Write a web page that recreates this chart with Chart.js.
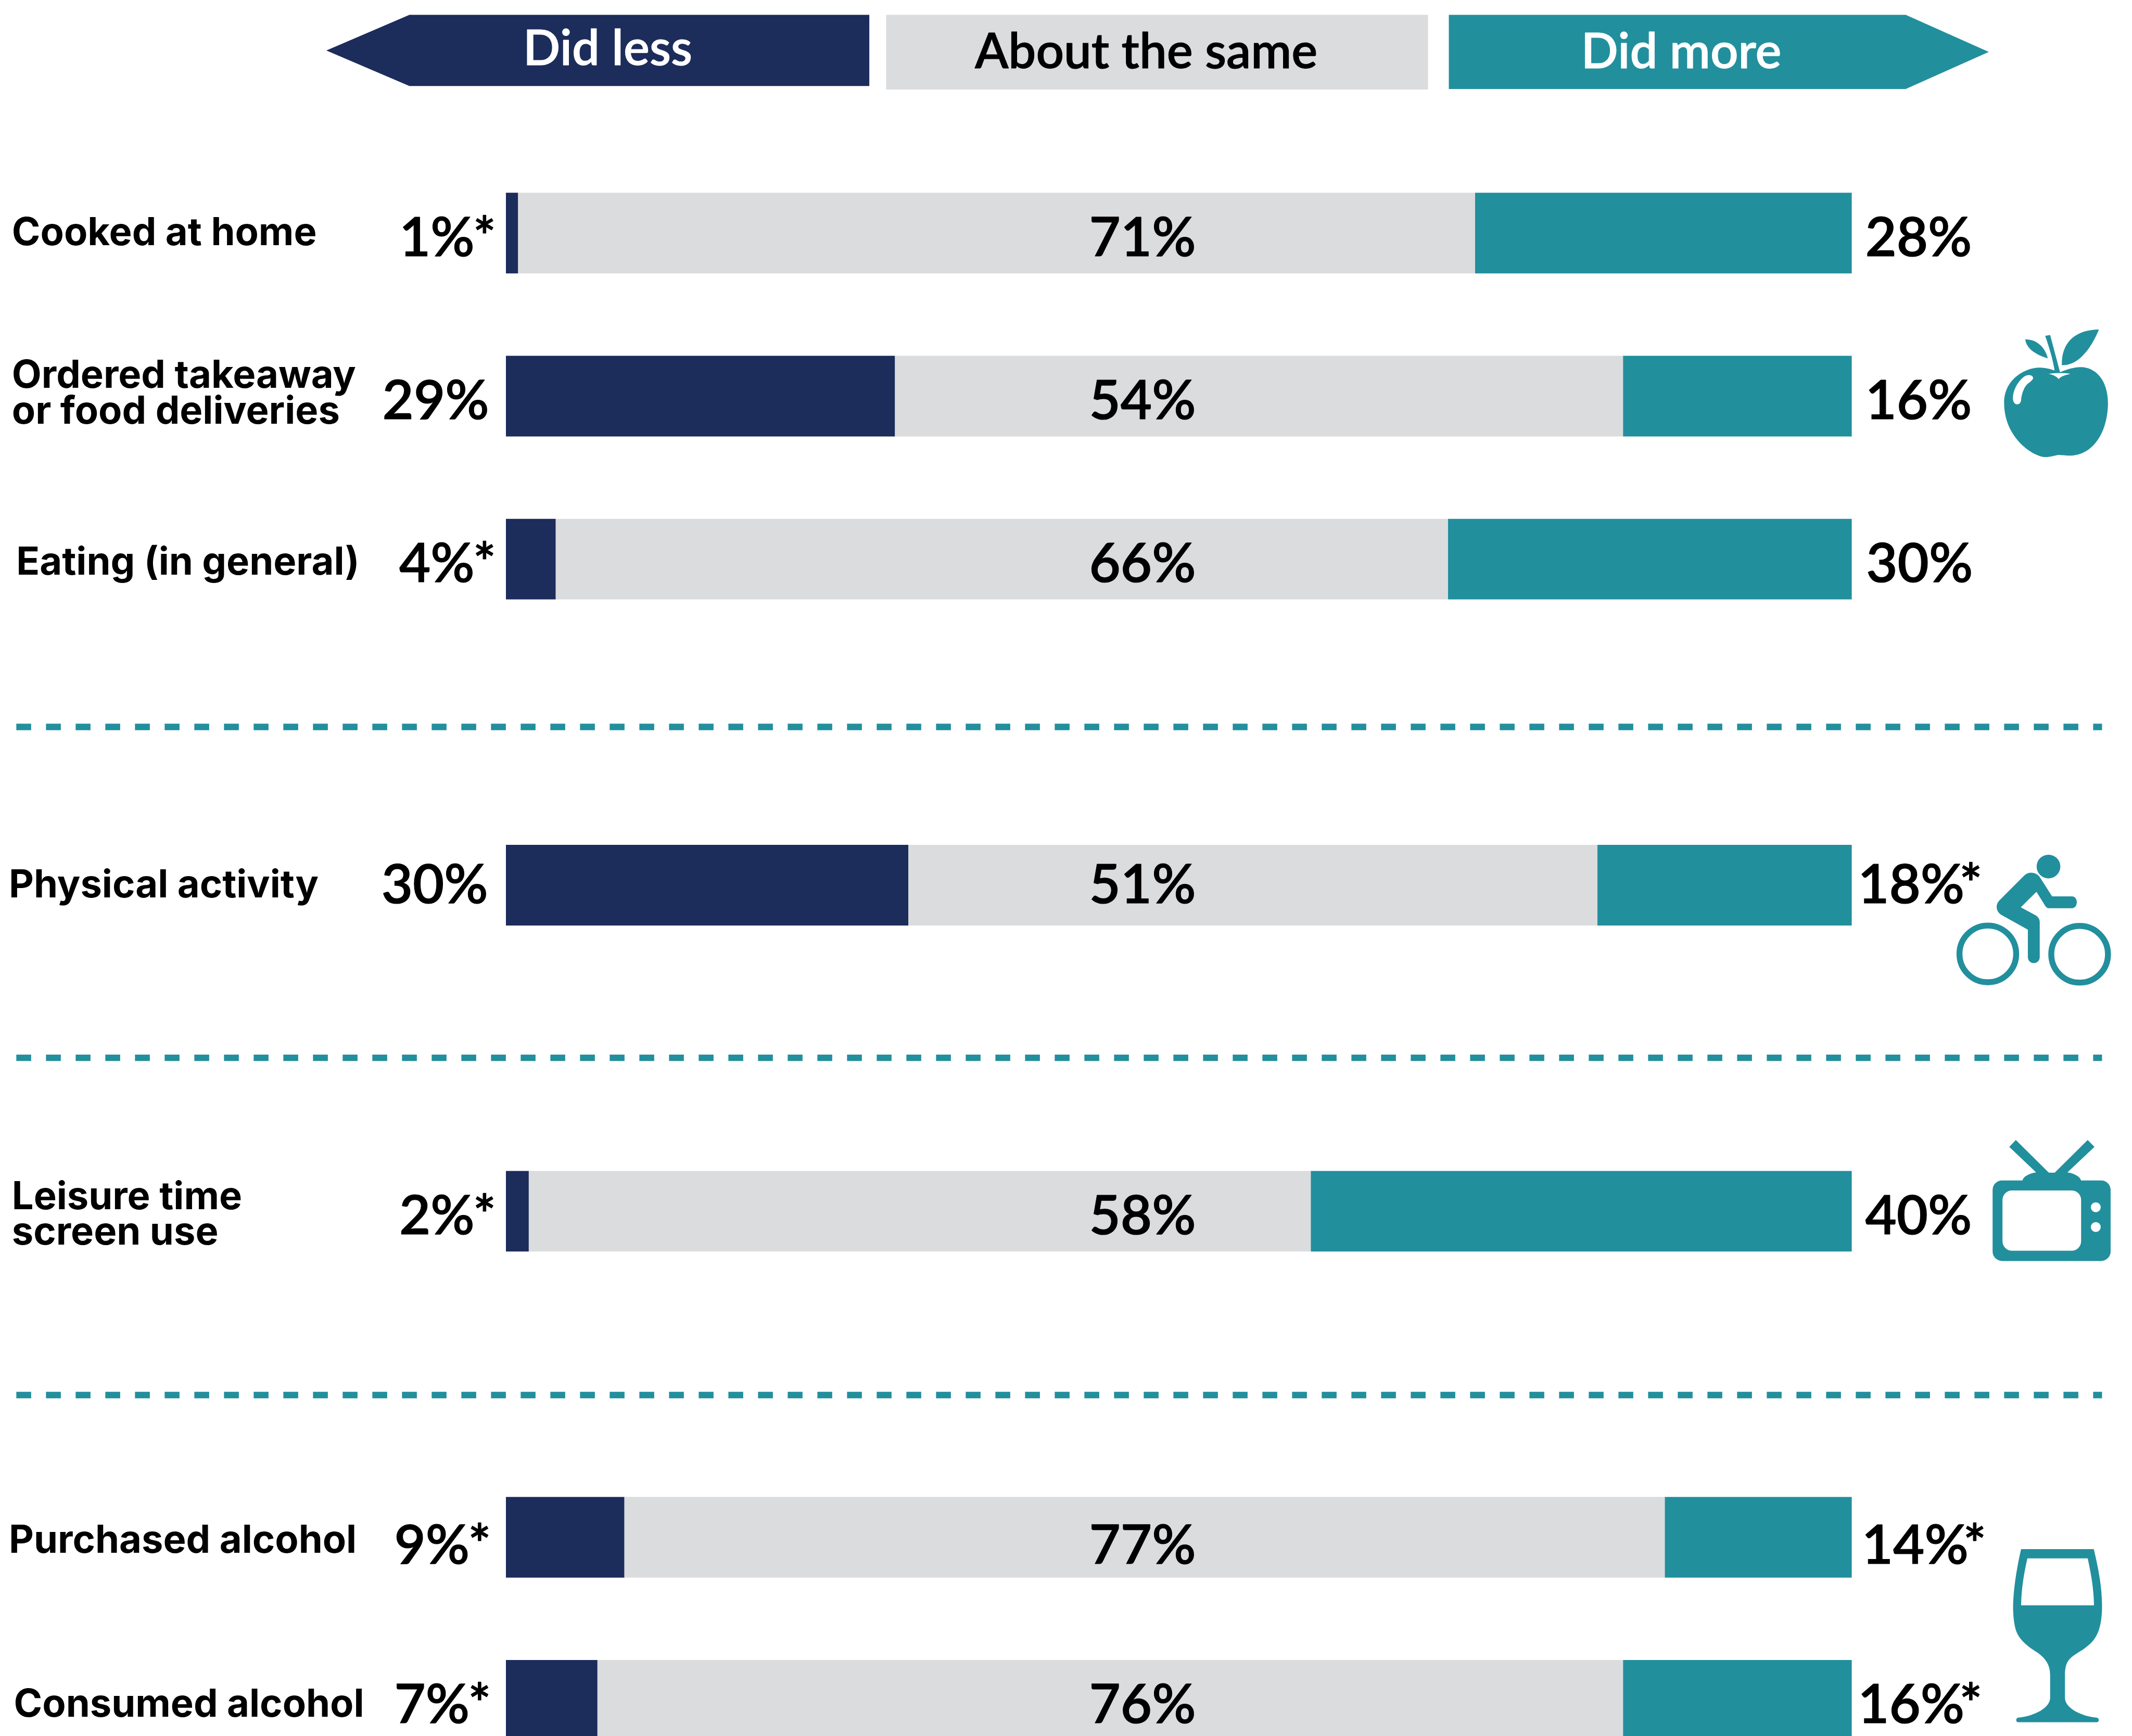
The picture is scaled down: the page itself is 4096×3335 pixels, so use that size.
<!DOCTYPE html>
<html>
<head>
<meta charset="utf-8">
<title>Did less, about the same, did more</title>
<script src="https://cdn.jsdelivr.net/npm/chart.js@4/dist/chart.umd.min.js"></script>
<style>
  html, body { margin: 0; padding: 0; background: #fff; overflow: hidden; }
  #wrap { width: 4096px; height: 3335px; overflow: hidden; }
  canvas { display: block; }
</style>
</head>
<body>
<div id="wrap"><canvas id="chart"></canvas></div>
<script>
// rows, the empty ones are the gaps with a dashed line in them
const categories = [
    "Cooked at home", "Ordered takeaway|or food deliveries", "Eating (in general)", "",
    "Physical activity", "", "Leisure time|screen use", "",
    "Purchased alcohol", "Consumed alcohol"
];
const didLess = [0.9, 28.9, 3.7, null, 29.9, null, 1.7, null, 8.8, 6.8];
const aboutSame = [71.1, 54.1, 66.3, null, 51.2, null, 58.1, null, 77.3, 76.2];
const didMore = [28.0, 17.0, 30.0, null, 18.9, null, 40.2, null, 13.9, 17.0];
const lessLabels = ["1%*", "29%", "4%*", "", "30%", "", "2%*", "", "9%*", "7%*"];
const sameLabels = ["71%", "54%", "66%", "", "51%", "", "58%", "", "77%", "76%"];
const moreLabels = ["28%", "16%", "30%", "", "18%*", "", "40%", "", "14%*", "16%*"];
const headerLabels = ["Did less", "About the same", "Did more"];

const S = 0.95; // reference px -> page px
const NAVY = "#1c2c5b", GREY = "#dbdcde", TEAL = "#228f9d";
const ROW = 329.6 * S;
const AREA_TOP = 306.5 * S;

// small per-row text placement, in reference px
const nameX = [24, 24, 33, 0, 18, 0, 24, 0, 18, 28];
const nameDy = [5, 0, 12, 0, 5, 0, 12, 0, 12, 14];
const lessRight = [1003, 989, 1003, 0, 987, 0, 1003, 0, 993, 993];
const moreLeft = [3772, 3772, 3774, 0, 3757, 0, 3772, 0, 3765, 3757];
const valueDy = [8, 8, 8, 0, -2, 0, 8, 0, 15, 8];
const SAME_AT = 47.3; // the middle labels all sit on one x value
const KERN_LEFT = 3, KERN_RIGHT = 10; // the asterisk sits tighter on the % than in Lato

function iconAt(ctx, ox, oy, draw) {
    ctx.save();
    ctx.scale(S, S);
    ctx.translate(ox, oy);
    ctx.scale(1 / 3, 1 / 3);
    ctx.fillStyle = TEAL;
    draw(ctx);
    ctx.restore();
}

function drawApple(ctx) {
    ctx.fill(new Path2D("M798 398C840 380 890 366 925 367C1010 368 1088 440 1089 585C1088 760 1000 905 855 904C830 904 805 900 790 900C770 902 740 913 710 913C640 913 459 800 459 585C459 430 600 370 670 370C710 370 740 378 765 388C755 320 730 240 708 178L738 172Z"));
    ctx.fill(new Path2D("M587 199C650 197 705 240 724 314C660 295 595 260 587 199Z"));
    ctx.fill(new Path2D("M1034 139C900 140 805 210 809 355C900 360 980 270 1034 139Z"));
    ctx.fillStyle = "#fff";
    ctx.fill(new Path2D("M634 428C625 412 600 412 580 425C540 455 512 510 512 555C512 585 530 595 540 593C552 592 562 580 562 565C565 530 580 490 595 475C610 460 640 445 634 428Z"));
    ctx.fill(new Path2D("M728 408C770 402 830 402 862 408C830 414 800 425 790 440C780 425 755 412 728 408Z"));
}

function drawBike(ctx) {
    ctx.beginPath();
    ctx.arc(728, 217, 72, 0, Math.PI * 2);
    ctx.fill();
    ctx.fill(new Path2D("M580 272C610 245 650 250 675 280L750 398L870 398C910 398 910 470 870 470L730 470C720 470 710 460 705 450L655 370L560 464L645 510C665 520 675 535 675 555L675 765C675 815 603 815 603 765L603 600L450 515C410 495 400 450 435 418Z"));
    ctx.strokeStyle = TEAL;
    ctx.lineWidth = 36;
    [[360, 747], [917, 749]].forEach(c => {
        ctx.beginPath();
        ctx.arc(c[0], c[1], 172, 0, Math.PI * 2);
        ctx.stroke();
    });
}

function drawTv(ctx) {
    ctx.fill(new Path2D("M490 118L530 76L730 274L766 274L966 76L1007 118L843 272C880 278 920 295 926 322L570 322C575 295 615 278 653 272Z"));
    ctx.beginPath();
    ctx.roundRect(389, 321, 716, 489, 58);
    ctx.fill();
    ctx.fillStyle = "#fff";
    ctx.beginPath();
    ctx.roundRect(449, 382, 477, 366, 58);
    ctx.fill();
    [484, 604].forEach(y => {
        ctx.beginPath();
        ctx.arc(1015, y, 30, 0, Math.PI * 2);
        ctx.fill();
    });
}

function drawGlass(ctx) {
    ctx.fill(new Path2D("M562 98L1003 98C1030 210 1053 330 1053 440C1053 560 1030 640 960 690C910 730 860 745 840 790C830 810 828 840 828 860L828 1000C828 1060 920 1110 1020 1120C1038 1122 1038 1148 1020 1148L545 1148C528 1148 528 1122 545 1120C645 1110 738 1060 738 1000L738 860C738 800 710 760 660 725C590 680 540 640 525 570C512 510 512 440 515 400C520 310 540 190 562 98Z"));
    ctx.fillStyle = "#fff";
    ctx.fill(new Path2D("M600 154L966 154C985 240 1003 340 1004 439L562 439C563 340 580 240 600 154Z"));
}

// Lato here is a bit lighter than the picture, so fatten with a thin stroke
function heavyText(ctx, text, px, py, weight) {
    ctx.lineWidth = weight;
    ctx.strokeStyle = ctx.fillStyle;
    ctx.lineJoin = "round";
    ctx.strokeText(text, px, py);
    ctx.fillText(text, px, py);
}

// draws a value from its left edge, asterisk pulled in
function valueFrom(ctx, text, left, py, kern) {
    const base = text.replace("*", "");
    ctx.textAlign = "left";
    heavyText(ctx, base, left, py, 1.2);
    if (text !== base) heavyText(ctx, "*", left + ctx.measureText(base).width - kern, py, 1.2);
}

function valueWidth(ctx, text, kern) {
    return ctx.measureText(text).width - (text.includes("*") ? kern : 0);
}

const extras = {
    id: "extras",
    afterDatasetsDraw(chart) {
        const ctx = chart.ctx;
        const x = chart.scales.x, y = chart.scales.y;
        ctx.save();
        ctx.textBaseline = "middle";

        // row names
        ctx.font = "700 74px Inter";
        ctx.fillStyle = "#000";
        ctx.textAlign = "left";
        categories.forEach((name, i) => {
            if (!name) return;
            const lines = name.split("|");
            const cy = y.getPixelForValue(i) + (nameDy[i] - 4) * S;
            lines.forEach((line, k) => {
                const off = (k - (lines.length - 1) / 2) * 72 * S;
                ctx.fillText(line, nameX[i] * S, cy + off);
            });
        });

        // percentages
        ctx.font = "600 104px Lato";
        categories.forEach((name, i) => {
            if (!name) return;
            const cy = y.getPixelForValue(i) + (valueDy[i] + 3) * S;
            valueFrom(ctx, lessLabels[i], lessRight[i] * S - valueWidth(ctx, lessLabels[i], KERN_LEFT), cy, KERN_LEFT);
            ctx.textAlign = "center";
            heavyText(ctx, sameLabels[i], x.getPixelForValue(SAME_AT), cy, 1.2);
            valueFrom(ctx, moreLabels[i], moreLeft[i] * S, cy, KERN_RIGHT);
        });

        // header arrows
        const poly = (pts, color) => {
            ctx.fillStyle = color;
            ctx.beginPath();
            pts.forEach((p, i) => i ? ctx.lineTo(p[0] * S, p[1] * S) : ctx.moveTo(p[0] * S, p[1] * S));
            ctx.closePath();
            ctx.fill();
        };
        poly([[660, 102], [828, 30], [1758, 30], [1758, 174], [828, 174]], NAVY);
        poly([[1792, 30], [2888, 30], [2888, 181], [1792, 181]], GREY);
        poly([[2930, 30], [3854, 30], [4022, 105], [3854, 180], [2930, 180]], TEAL);
        ctx.font = "600 94px Lato";
        ctx.textAlign = "center";
        ctx.fillStyle = "#fff";
        heavyText(ctx, headerLabels[0], 1229 * S, 100 * S, 1);
        ctx.fillStyle = "#000";
        heavyText(ctx, headerLabels[1], 2318 * S, 106 * S, 1);
        ctx.fillStyle = "#fff";
        heavyText(ctx, headerLabels[2], 3400 * S, 106 * S, 1);

        // dashed separators
        ctx.strokeStyle = TEAL;
        ctx.lineWidth = 13 * S;
        ctx.setLineDash([30 * S, 30 * S]);
        [1470, 2139, 2821].forEach(ly => {
            ctx.beginPath();
            ctx.moveTo(33 * S, ly * S);
            ctx.lineTo(4251 * S, ly * S);
            ctx.stroke();
        });
        ctx.restore();

        iconAt(ctx, 3900, 620, drawApple);
        iconAt(ctx, 3900, 1680, drawBike);
        iconAt(ctx, 3900, 2280, drawTv);
        iconAt(ctx, 3900, 3100, drawGlass);
    }
};

const canvas = document.getElementById("chart");
canvas.width = 4096;
canvas.height = Math.ceil(AREA_TOP + ROW * 10);
canvas.style.width = canvas.width + "px";
canvas.style.height = canvas.height + "px";

new Chart(canvas.getContext("2d"), {
    type: "bar",
    data: {
        labels: categories,
        datasets: [
            { label: "Did less", data: didLess, backgroundColor: NAVY },
            { label: "About the same", data: aboutSame, backgroundColor: GREY },
            { label: "Did more", data: didMore, backgroundColor: TEAL }
        ]
    },
    options: {
        indexAxis: "y",
        responsive: false,
        animation: false,
        devicePixelRatio: 1,
        layout: { padding: { left: 1023 * S, right: 4096 - 3745 * S, top: AREA_TOP, bottom: 0 } },
        datasets: { bar: { categoryPercentage: 1, barPercentage: 0.4945, borderWidth: 0 } },
        plugins: { legend: { display: false }, tooltip: { enabled: false } },
        scales: {
            x: { stacked: true, min: 0, max: 100, display: false },
            y: { stacked: true, display: false }
        }
    },
    plugins: [extras]
});
</script>
</body>
</html>
